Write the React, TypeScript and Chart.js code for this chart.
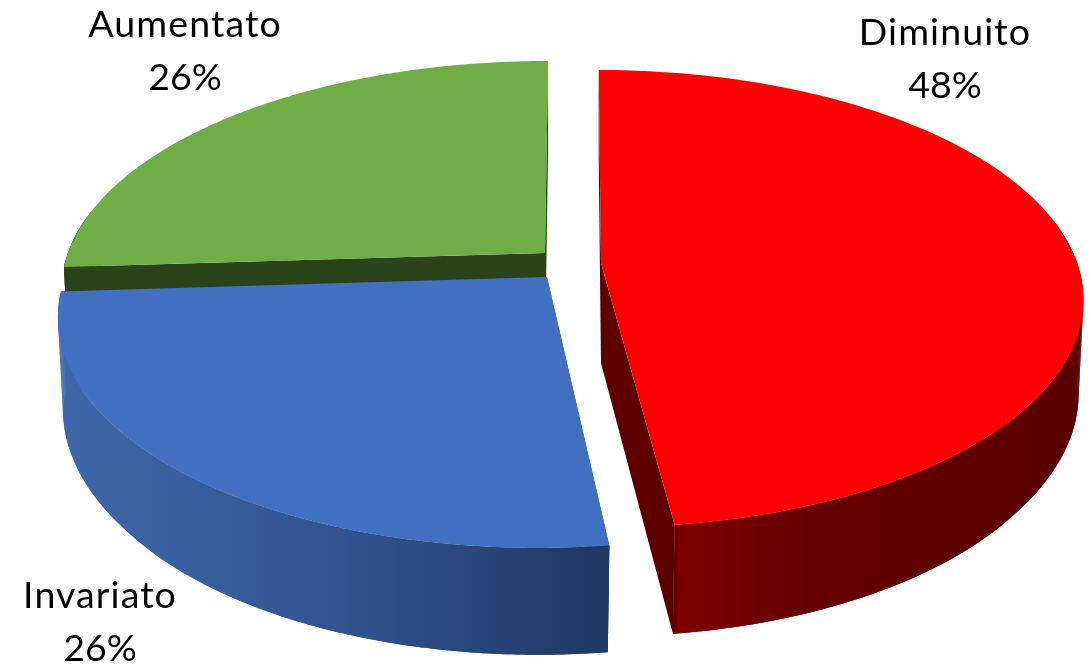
import React, { useEffect, useRef } from "react";
import { Chart, registerables } from "chart.js";

Chart.register(...registerables);

const categories = ["Diminuito", "Invariato", "Aumentato"];
const shares = [48, 26, 26];
const topColors = ["#ff0000", "#4170c0", "#70ad47"];
const faceColors = ["#5e0000", "#2a4a85", "#2b431a"];

// Placement of each exploded slice in the picture (same order as categories).
const sliceViews = [
  { ax: 601, ay: 263, sx: 0.998, sy: 1.005, skew: 0.012, depth: 100 },
  { ax: 547, ay: 277, sx: 1.01, sy: 1.03, skew: -0.034, depth: 98 },
  { ax: 545, ay: 253, sx: 1, sy: 1, skew: -0.016, depth: 100 },
];
const labelSpots = [
  { x: 945, y: 45 },
  { x: 100, y: 608 },
  { x: 185, y: 37 },
];
const DRAW_ORDER = [2, 1, 0];
const A = 477;
const B = 222;
const K = 0.156;
const NAME_FONT = '37.5px Lato, "Open Sans", sans-serif';

type P = [number, number];

function project(view: any, r: number, theta: number): { top: P; bottom: P } {
  const u = r * Math.cos(theta);
  const v = r * Math.sin(theta);
  const w = 1 - K * v;
  const dy = (view.sy * B * v) / w;
  const dx = (view.sx * A * u) / w + view.skew * dy;
  const narrowing = 0.975 + 0.015 * Math.min(1, Math.max(0, (0.6 - v) / 0.45));
  return {
    top: [view.ax + dx, view.ay + dy],
    bottom: [view.ax + dx * narrowing, view.ay + dy + view.depth * (1 + 0.09 * v)],
  };
}

function fillPoly(ctx: CanvasRenderingContext2D, pts: P[], fill: any) {
  ctx.beginPath();
  pts.forEach((p, i) => (i ? ctx.lineTo(p[0], p[1]) : ctx.moveTo(p[0], p[1])));
  ctx.closePath();
  ctx.fillStyle = fill;
  ctx.fill();
}

function wallFill(ctx: CanvasRenderingContext2D, i: number, minX: number, maxX: number) {
  const grad = ctx.createLinearGradient(minX, 0, maxX, 0);
  if (i === 0) {
    grad.addColorStop(0, "#5e0000");
    grad.addColorStop(0.16, "#5e0000");
    grad.addColorStop(0.165, "#800000");
    grad.addColorStop(0.45, "#640000");
    grad.addColorStop(1, "#5a0000");
  } else if (i === 1) {
    grad.addColorStop(0, "#3f68ab");
    grad.addColorStop(0.5, "#325590");
    grad.addColorStop(1, "#1f3864");
  } else {
    grad.addColorStop(0, "#2b431a");
    grad.addColorStop(1, "#2b431a");
  }
  return grad;
}

const pie3d = {
  id: "pie3d",
  beforeDatasetsDraw(chart: any) {
    const ctx: CanvasRenderingContext2D = chart.ctx;
    const arcs = chart.getDatasetMeta(0).data;
    DRAW_ORDER.forEach((i) => {
      const { startAngle, endAngle } = arcs[i];
      const view = sliceViews[i];
      const steps = 160;
      const rim: { top: P; bottom: P }[] = [];
      const front: { top: P; bottom: P }[] = [];
      for (let s = 0; s <= steps; s++) {
        const theta = startAngle + ((endAngle - startAngle) * s) / steps;
        const p = project(view, 1, theta);
        rim.push(p);
        if (Math.sin(theta) > -0.2) front.push(p);
      }
      const apex = project(view, 0, 0);
      const first = rim[0];
      const last = rim[steps];
      fillPoly(ctx, [apex.top, first.top, first.bottom, apex.bottom], faceColors[i]);
      fillPoly(ctx, [apex.top, last.top, last.bottom, apex.bottom], faceColors[i]);
      const xs = rim.map((p) => p.top[0]);
      if (front.length > 1) {
        const fill = wallFill(ctx, i, Math.min(...xs), Math.max(...xs));
        fillPoly(ctx, [...front.map((p) => p.top), ...front.map((p) => p.bottom).reverse()], fill);
        for (let s = 0; s < front.length - 1; s++) {
          const a = front[s];
          const b = front[s + 1];
          fillPoly(ctx, [a.top, b.top, b.bottom, a.bottom], fill);
        }
      }
      fillPoly(ctx, [apex.top, ...rim.map((p) => p.top)], topColors[i]);
    });
    return false;
  },
  afterDraw(chart: any) {
    const ctx: any = chart.ctx;
    ctx.save();
    ctx.font = NAME_FONT;
    ctx.fillStyle = "#000000";
    ctx.textAlign = "center";
    ctx.textBaseline = "alphabetic";
    categories.forEach((name, i) => {
      const spot = labelSpots[i];
      ctx.letterSpacing = "1.1px";
      ctx.fillText(name, spot.x, spot.y);
      ctx.letterSpacing = "0px";
      ctx.fillText(`${shares[i]}%`, spot.x, spot.y + 52.5);
    });
    ctx.restore();
  },
};

export default function App() {
  const ref = useRef<HTMLCanvasElement>(null);
  useEffect(() => {
    document.body.style.margin = "0";
    const chart = new Chart(ref.current as HTMLCanvasElement, {
      type: "pie",
      data: {
        labels: categories,
        datasets: [{ data: shares, backgroundColor: topColors, borderWidth: 0 }],
      },
      options: {
        responsive: false,
        animation: false,
        plugins: { legend: { display: false }, tooltip: { enabled: false } },
      },
      plugins: [pie3d],
    } as any);
    return () => chart.destroy();
  }, []);
  return (
    <canvas
      ref={ref}
      width={1091}
      height={666}
      style={{ display: "block", width: 1091, height: 666, background: "#ffffff" }}
    />
  );
}
